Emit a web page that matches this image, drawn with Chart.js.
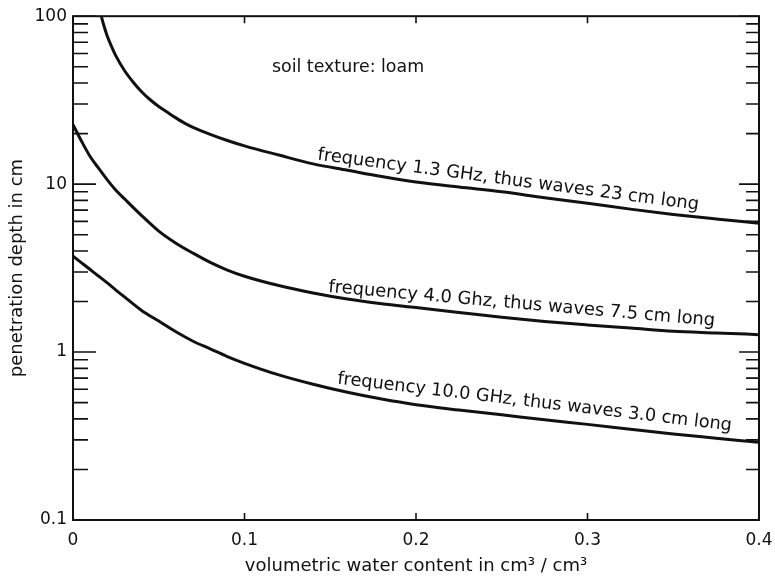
<!DOCTYPE html>
<html>
<head>
<meta charset="utf-8">
<script src="https://cdn.jsdelivr.net/npm/chart.js@4/dist/chart.umd.min.js"></script>
<style>
  body { margin: 0; background: #fff; }
  #wrap { width: 775px; height: 581px; }
</style>
</head>
<body>
<div id="wrap"><canvas id="chartCanvas"></canvas></div>
<script>
// --- Dados ---
// water content (cm3/cm3) used by the 4.0 and 10.0 GHz curves
const waterContent = [0, 0.005, 0.01, 0.015, 0.02, 0.025, 0.03, 0.04, 0.05, 0.06, 0.07, 0.08, 0.09, 0.1,
  0.12, 0.14, 0.16, 0.18, 0.2, 0.225, 0.25, 0.275, 0.3, 0.325, 0.35, 0.375, 0.4];
const depth40 = [22.6, 18.0, 14.6, 12.4, 10.6, 9.2, 8.18, 6.5, 5.25, 4.45, 3.88, 3.42, 3.08, 2.83,
  2.49, 2.25, 2.07, 1.94, 1.84, 1.72, 1.61, 1.52, 1.45, 1.39, 1.33, 1.3, 1.27];
const depth100 = [3.73, 3.4, 3.1, 2.83, 2.58, 2.34, 2.13, 1.77, 1.53, 1.32, 1.16, 1.045, 0.94, 0.857,
  0.731, 0.643, 0.576, 0.525, 0.486, 0.452, 0.423, 0.395, 0.371, 0.347, 0.325, 0.307, 0.29];

// the 1.3 GHz curve only enters the plot once it drops below 100 cm
const waterContent13 = [0.0165, 0.018, 0.02, 0.0225, 0.025, 0.03, 0.035, 0.04, 0.045, 0.05, 0.055, 0.06, 0.065, 0.07,
  0.08, 0.09, 0.1, 0.12, 0.14, 0.16, 0.18, 0.2, 0.225, 0.25, 0.275, 0.3, 0.325, 0.35, 0.375, 0.4];
const depth13 = [100, 88, 76, 66, 58, 47.5, 40.6, 35.5, 31.8, 29.0, 26.8, 24.8, 23.1, 21.8,
  19.8, 18.2, 16.9, 14.9, 13.2, 12.1, 11.1, 10.3, 9.6, 9.0, 8.3, 7.7, 7.1, 6.6, 6.2, 5.85];

const xTicks = [0, 0.1, 0.2, 0.3, 0.4];
const yTicks = [0.1, 0.2, 0.3, 0.4, 0.5, 0.6, 0.7, 0.8, 0.9, 1, 2, 3, 4, 5, 6, 7, 8, 9, 10, 20, 30, 40, 50, 60, 70, 80, 90, 100];
const yTickLabels = ['0.1', '1', '10', '100'];

const curveLabels = [
  'frequency 1.3 GHz, thus waves 23 cm long',
  'frequency 4.0 Ghz, thus waves 7.5 cm long',
  'frequency 10.0 GHz, thus waves 3.0 cm long'
];
const noteText = 'soil texture: loam';

const FONT = "'DejaVu Sans', sans-serif";
const INK = '#111';

function pontos(xs, ys) {
  return xs.map((x, i) => ({ x, y: ys[i] }));
}

function isDecade(v) {
  const e = Math.log10(v);
  return Math.abs(e - Math.round(e)) < 1e-6;
}

// --- Moldura e ticks internos ---
const frameTicks = {
  id: 'frameTicks',
  afterDraw(chart) {
    const { ctx, chartArea: a, scales: { x, y } } = chart;
    ctx.save();
    ctx.strokeStyle = INK;
    ctx.lineWidth = 1.6;
    ctx.beginPath();
    y.ticks.forEach(t => {
      const py = y.getPixelForValue(t.value);
      const major = isDecade(t.value);
      ctx.moveTo(a.left, py);
      ctx.lineTo(a.left + (major ? 23 : 15), py);
      ctx.moveTo(a.right, py);
      ctx.lineTo(a.right - (major ? 20 : 13), py);
    });
    x.ticks.forEach(t => {
      const px = x.getPixelForValue(t.value);
      ctx.moveTo(px, a.bottom);
      ctx.lineTo(px, a.bottom - 7);
      ctx.moveTo(px, a.top);
      ctx.lineTo(px, a.top + 7);
    });
    ctx.stroke();
    ctx.lineWidth = 2;
    ctx.strokeRect(a.left, a.top, a.right - a.left, a.bottom - a.top);
    ctx.restore();
  }
};

// --- Textos dentro do gráfico (posição em unidades de dados) ---
const textLabels = {
  id: 'textLabels',
  afterDatasetsDraw(chart, args, opts) {
    const { ctx, scales: { x, y } } = chart;
    ctx.save();
    ctx.fillStyle = INK;
    ctx.textBaseline = 'alphabetic';
    ctx.textAlign = 'left';
    opts.items.forEach(it => {
      ctx.save();
      ctx.font = `${it.size}px ${FONT}`;
      ctx.translate(x.getPixelForValue(it.x), y.getPixelForValue(it.y));
      ctx.rotate(it.angle * Math.PI / 180);
      ctx.fillText(it.text, 0, 0);
      ctx.restore();
    });
    ctx.restore();
  }
};

const linha = {
  showLine: true,
  pointRadius: 0,
  borderColor: INK,
  borderWidth: 3,
  cubicInterpolationMode: 'monotone',
  fill: false
};

Chart.defaults.color = INK;
Chart.defaults.font.family = FONT;

new Chart(document.getElementById('chartCanvas'), {
  type: 'scatter',
  data: {
    datasets: [
      { ...linha, label: curveLabels[0], data: pontos(waterContent13, depth13) },
      { ...linha, label: curveLabels[1], data: pontos(waterContent, depth40) },
      { ...linha, label: curveLabels[2], data: pontos(waterContent, depth100) }
    ]
  },
  options: {
    responsive: true,
    maintainAspectRatio: false,
    animation: false,
    layout: { padding: { top: 14, right: 16, left: 0, bottom: 0 } },
    plugins: {
      legend: { display: false },
      tooltip: { enabled: false },
      textLabels: {
        items: [
          { text: noteText, x: 0.116, y: 46.6, angle: 0, size: 17.4 },
          { text: curveLabels[0], x: 0.1423, y: 14.0, angle: 7.5, size: 17.9 },
          { text: curveLabels[1], x: 0.1487, y: 2.28, angle: 5, size: 17.9 },
          { text: curveLabels[2], x: 0.1539, y: 0.65, angle: 6.8, size: 17.7 }
        ]
      }
    },
    scales: {
      x: {
        type: 'linear',
        min: 0,
        max: 0.4,
        afterBuildTicks: s => { s.ticks = xTicks.map(v => ({ value: v })); },
        afterFit: s => { s.height = 61; s.paddingLeft = 0; s.paddingRight = 0; },
        grid: { display: false, drawTicks: false },
        border: { display: false },
        ticks: {
          padding: 10,
          font: { size: 17 },
          color: INK,
          callback: v => (v === 0 ? '0' : Number(v).toFixed(1))
        },
        title: {
          display: true,
          text: 'volumetric water content in cm³ / cm³',
          font: { size: 18 },
          color: INK,
          padding: { top: 4, bottom: 4 }
        }
      },
      y: {
        type: 'logarithmic',
        min: 0.1,
        max: 100,
        afterBuildTicks: s => { s.ticks = yTicks.map(v => ({ value: v })); },
        afterFit: s => { s.width = 73; },
        grid: { display: false, drawTicks: false },
        border: { display: false },
        ticks: {
          autoSkip: false,
          padding: 6,
          font: { size: 17 },
          color: INK,
          callback: v => {
            if (!isDecade(v)) return '';
            const i = Math.round(Math.log10(v)) + 1;
            return yTickLabels[i];
          }
        },
        title: {
          display: true,
          text: 'penetration depth in cm',
          font: { size: 18 },
          color: INK,
          padding: { top: 7, bottom: 4 }
        }
      }
    }
  },
  plugins: [frameTicks, textLabels]
});
</script>
</body>
</html>
